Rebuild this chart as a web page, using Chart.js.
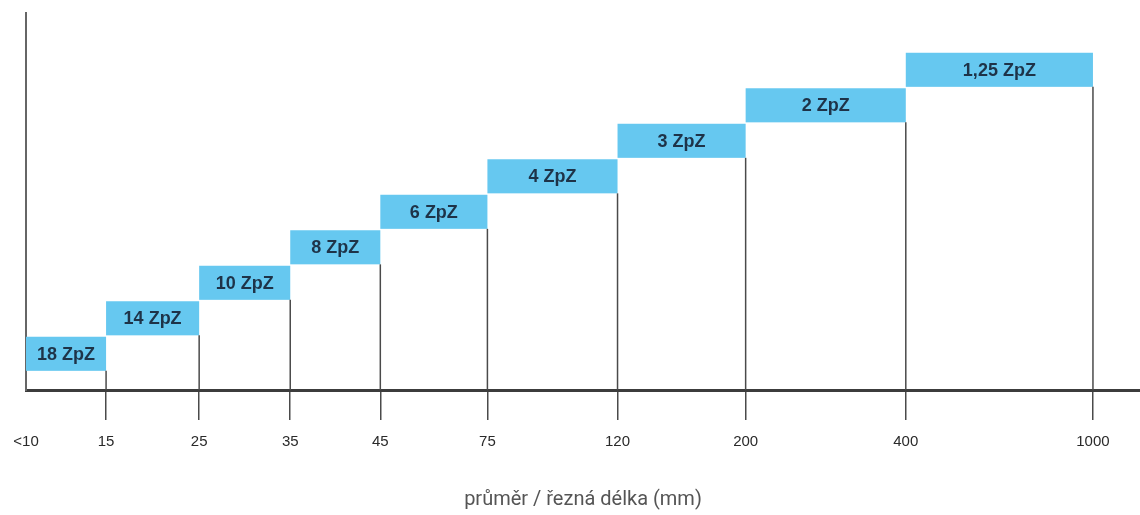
<!DOCTYPE html>
<html>
<head>
<meta charset="utf-8">
<script src="https://cdn.jsdelivr.net/npm/chart.js@4.4.0/dist/chart.umd.min.js"></script>
<style>
    html, body { margin: 0; padding: 0; background: #fff; }
    #wrap { width: 1140px; height: 515px; }
</style>
</head>
<body>
<div id="wrap"><canvas id="zpz-chart" width="1140" height="515"></canvas></div>
<script>
// Tick labels along the bottom axis (mm)
const categories = ['<10', '15', '25', '35', '45', '75', '120', '200', '400', '1000'];
// Teeth per inch for each range
const teeth = ['18', '14', '10', '8', '6', '4', '3', '2', '1,25'];
// Step level of each box (0 = lowest)
const levels = [0, 1, 2, 3, 4, 5, 6, 7, 8];

// Spacing between neighbouring ticks, in x axis units (uneven, as drawn)
const tickGap = [80, 93, 91, 90, 107, 130, 128, 160, 187];
const tickPos = [0];
tickGap.forEach(g => tickPos.push(tickPos[tickPos.length - 1] + g));

const boxColor = '#66c8f0';
const lineColor = '#4a4a4a';

// Draws the stepped boxes, their labels and the drop lines
const stepBoxes = {
    id: 'stepBoxes',
    afterDatasetsDraw(chart) {
        const { ctx, scales: { x, y } } = chart;
        const axisY = y.getPixelForValue(0);
        ctx.save();
        levels.forEach((lvl, i) => {
            const left = x.getPixelForValue(tickPos[i]);
            const right = x.getPixelForValue(tickPos[i + 1]);
            const top = y.getPixelForValue(lvl + 1.5);
            const bottom = y.getPixelForValue(lvl + 0.54);

            ctx.fillStyle = boxColor;
            ctx.fillRect(left, top, right - left, bottom - top);

            // line from the box down to the axis
            ctx.strokeStyle = lineColor;
            ctx.lineWidth = 1.5;
            ctx.beginPath();
            ctx.moveTo(right, bottom);
            ctx.lineTo(right, axisY);
            ctx.stroke();

            ctx.fillStyle = '#1e3348';
            ctx.font = 'bold 18px "Liberation Sans", Arial, sans-serif';
            ctx.textAlign = 'center';
            ctx.textBaseline = 'middle';
            ctx.fillText(teeth[i] + ' ZpZ', (left + right) / 2, (top + bottom) / 2 + 1);
        });
        ctx.restore();
    }
};

new Chart(document.getElementById('zpz-chart'), {
    type: 'scatter',
    data: {
        datasets: [{
            data: levels.map((lvl, i) => ({ x: tickPos[i + 1], y: lvl + 1 })),
            pointRadius: 0,
            showLine: false
        }]
    },
    options: {
        responsive: false,
        animation: false,
        layout: { padding: { left: 26, top: 13, right: 0, bottom: 3 } },
        plugins: {
            legend: { display: false },
            tooltip: { enabled: false }
        },
        scales: {
            x: {
                type: 'linear',
                min: 0,
                max: tickPos[tickPos.length - 1] + 47,
                afterBuildTicks: scale => {
                    scale.ticks = tickPos.map(v => ({ value: v }));
                },
                border: { color: '#3c3c3c', width: 3 },
                grid: {
                    drawOnChartArea: false,
                    drawTicks: true,
                    tickLength: 30,
                    lineWidth: 1.5,
                    color: c => c.index === 0 ? 'rgba(0,0,0,0)' : lineColor
                },
                ticks: {
                    autoSkip: false,
                    maxRotation: 0,
                    padding: 13,
                    color: '#2a2a2a',
                    font: { family: '"Liberation Sans", Arial, sans-serif', size: 15 },
                    callback: (v, i) => categories[i]
                },
                title: {
                    display: true,
                    text: 'průměr / řezná délka (mm)',
                    color: '#555',
                    font: { family: 'Roboto, sans-serif', size: 20 },
                    padding: { top: 24, bottom: 0 }
                }
            },
            y: {
                type: 'linear',
                min: 0,
                max: 10.62,
                ticks: { display: false },
                grid: { display: false, drawTicks: false },
                border: { display: true, color: '#666', width: 2 }
            }
        }
    },
    plugins: [stepBoxes]
});
</script>
</body>
</html>
